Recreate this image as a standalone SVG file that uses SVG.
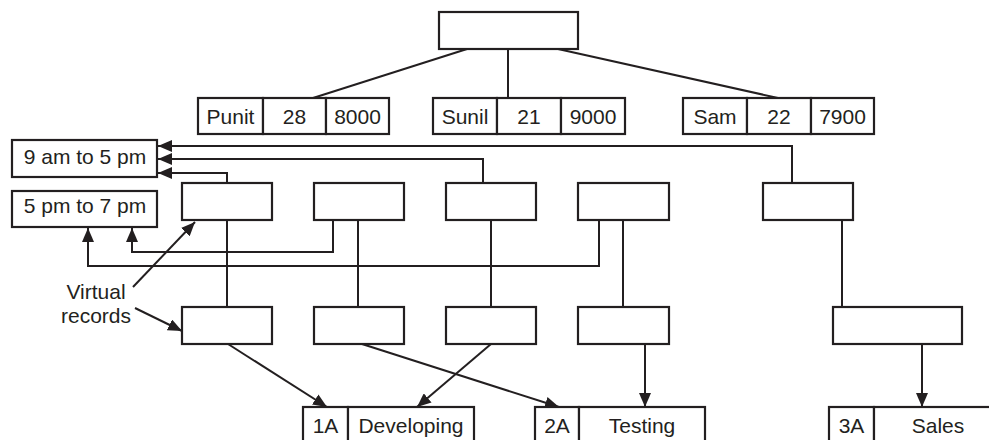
<svg xmlns="http://www.w3.org/2000/svg" width="989" height="440" viewBox="0 0 989 440">
<style>
.box{fill:#fff;stroke:#231f20;stroke-width:2.2}
.ln{fill:none;stroke:#231f20;stroke-width:2}
.t{font-family:"Liberation Sans",Arial,sans-serif;font-size:21px;fill:#231f20;text-anchor:middle}
</style>
<defs>
<marker id="ah" markerUnits="userSpaceOnUse" markerWidth="14" markerHeight="12" viewBox="0 0 14 12" refX="14" refY="6" orient="auto">
<path d="M0,0 L14,6 L0,12 z" fill="#231f20"/>
</marker>
</defs>
<rect width="989" height="440" fill="#fff"/>
<g id="connectors">
<path class="ln" d="M467,49 L313,98"/>
<path class="ln" d="M508,49 V98"/>
<path class="ln" d="M558,49 L778,98"/>
<path class="ln" d="M792,183 V146 H158" marker-end="url(#ah)"/>
<path class="ln" d="M483,183 V159 H158" marker-end="url(#ah)"/>
<path class="ln" d="M227,183 V173 H158" marker-end="url(#ah)"/>
<path class="ln" d="M227,220 V307"/>
<path class="ln" d="M358,220 V307"/>
<path class="ln" d="M333,220 V252 H132 V228" marker-end="url(#ah)"/>
<path class="ln" d="M491,220 V307"/>
<path class="ln" d="M623,220 V307"/>
<path class="ln" d="M599,220 V266 H88 V228" marker-end="url(#ah)"/>
<path class="ln" d="M842,220 V307"/>
<path class="ln" d="M228,344 L327,407" marker-end="url(#ah)"/>
<path class="ln" d="M362,344 L559,407" marker-end="url(#ah)"/>
<path class="ln" d="M491,344 L417,407" marker-end="url(#ah)"/>
<path class="ln" d="M645,344 V407" marker-end="url(#ah)"/>
<path class="ln" d="M922,344 V407" marker-end="url(#ah)"/>
<path class="ln" d="M133,287 L195,222" marker-end="url(#ah)"/>
<path class="ln" d="M135,308 L182,331" marker-end="url(#ah)"/>
</g>
<g id="root"><rect class="box" x="439" y="12" width="139" height="37"/></g>
<g id="punit">
<rect class="box" x="198" y="98" width="65" height="36"/>
<rect class="box" x="263" y="98" width="63" height="36"/>
<rect class="box" x="326" y="98" width="63" height="36"/>
<text class="t" x="230.5" y="124">Punit</text>
<text class="t" x="294.5" y="124">28</text>
<text class="t" x="357.5" y="124">8000</text>
</g>
<g id="sunil">
<rect class="box" x="433" y="98" width="64" height="36"/>
<rect class="box" x="497" y="98" width="64" height="36"/>
<rect class="box" x="561" y="98" width="64" height="36"/>
<text class="t" x="465" y="124">Sunil</text>
<text class="t" x="529" y="124">21</text>
<text class="t" x="593" y="124">9000</text>
</g>
<g id="sam">
<rect class="box" x="683" y="98" width="64" height="36"/>
<rect class="box" x="747" y="98" width="64" height="36"/>
<rect class="box" x="811" y="98" width="63" height="36"/>
<text class="t" x="715" y="124">Sam</text>
<text class="t" x="779" y="124">22</text>
<text class="t" x="842.5" y="124">7900</text>
</g>
<g id="shift1"><rect class="box" x="12" y="140" width="145" height="37"/><text class="t" x="85" y="164">9 am to 5 pm</text></g>
<g id="shift2"><rect class="box" x="12" y="191" width="145" height="36"/><text class="t" x="85" y="213">5 pm to 7 pm</text></g>
<g id="u1"><rect class="box" x="182" y="183" width="90" height="37"/></g>
<g id="u2"><rect class="box" x="314" y="183" width="90" height="37"/></g>
<g id="u3"><rect class="box" x="446" y="183" width="90" height="37"/></g>
<g id="u4"><rect class="box" x="578" y="183" width="91" height="37"/></g>
<g id="u5"><rect class="box" x="763" y="183" width="90" height="37"/></g>
<g id="l1"><rect class="box" x="182" y="307" width="90" height="37"/></g>
<g id="l2"><rect class="box" x="314" y="307" width="90" height="37"/></g>
<g id="l3"><rect class="box" x="446" y="307" width="90" height="37"/></g>
<g id="l4"><rect class="box" x="578" y="307" width="91" height="37"/></g>
<g id="l5"><rect class="box" x="833" y="307" width="129" height="37"/></g>
<g id="virtual-label"><text class="t" x="96" y="299">Virtual</text><text class="t" x="96" y="323">records</text></g>
<g id="dept1">
<rect class="box" x="303" y="407" width="45" height="45"/>
<rect class="box" x="348" y="407" width="126" height="45"/>
<text class="t" x="325.5" y="433">1A</text>
<text class="t" x="411" y="433">Developing</text>
</g>
<g id="dept2">
<rect class="box" x="535" y="407" width="44" height="45"/>
<rect class="box" x="579" y="407" width="126" height="45"/>
<text class="t" x="557" y="433">2A</text>
<text class="t" x="642" y="433">Testing</text>
</g>
<g id="dept3">
<rect class="box" x="829" y="407" width="45" height="45"/>
<rect class="box" x="874" y="407" width="130" height="45"/>
<text class="t" x="851.5" y="433">3A</text>
<text class="t" x="938" y="433">Sales</text>
</g>
</svg>
